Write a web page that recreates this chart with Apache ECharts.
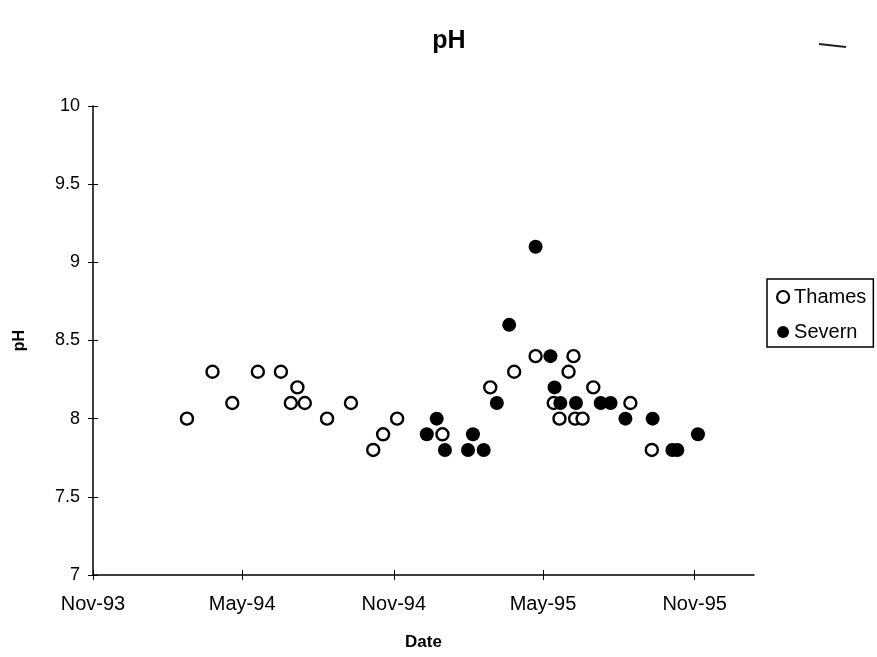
<!DOCTYPE html>
<html>
<head>
<meta charset="utf-8">
<script src="https://cdn.jsdelivr.net/npm/echarts@6/dist/echarts.min.js"></script>
<style>
html,body{margin:0;padding:0;background:#fff;}
#chart{width:877px;height:657px;}
</style>
</head>
<body>
<div id="chart"></div>
<script>
// ---- data ----
var axisStart = '1993-11-01';
var axisEnd = '1996-01-12';
var tickDates = ['1993-11-01', '1994-05-01', '1994-11-01', '1995-05-01', '1995-11-01'];
var tickLabels = ['Nov-93', 'May-94', 'Nov-94', 'May-95', 'Nov-95'];

var thamesDates = ['1994-02-23', '1994-03-26', '1994-04-19', '1994-05-20', '1994-06-17', '1994-06-29',
  '1994-07-07', '1994-07-16', '1994-08-12', '1994-09-10', '1994-10-07', '1994-10-19', '1994-11-05',
  '1994-12-30', '1995-02-26', '1995-03-27', '1995-04-22', '1995-05-14', '1995-05-21', '1995-06-01',
  '1995-06-07', '1995-06-09', '1995-06-18', '1995-07-01', '1995-08-15', '1995-09-10'];
var thamesPH = [8.0, 8.3, 8.1, 8.3, 8.3, 8.1,
  8.2, 8.1, 8.0, 8.1, 7.8, 7.9, 8.0,
  7.9, 8.2, 8.3, 8.4, 8.1, 8.0, 8.3,
  8.4, 8.0, 8.0, 8.2, 8.1, 7.8];

var severnDates = ['1994-12-11', '1994-12-23', '1995-01-02', '1995-01-30', '1995-02-05', '1995-02-18',
  '1995-03-06', '1995-03-21', '1995-04-22', '1995-05-10', '1995-05-15', '1995-05-22', '1995-06-10',
  '1995-07-10', '1995-07-22', '1995-08-09', '1995-09-11', '1995-10-05', '1995-10-11', '1995-11-05'];
var severnPH = [7.9, 8.0, 7.8, 7.8, 7.9, 7.8,
  8.1, 8.6, 9.1, 8.4, 8.2, 8.1, 8.1,
  8.1, 8.1, 8.0, 8.0, 7.8, 7.8, 7.9];

// ---- helpers ----
var DAY = 86400000;
function dayNum(s) { return (Date.parse(s + 'T00:00:00Z') - Date.parse(axisStart + 'T00:00:00Z')) / DAY; }
var tickDays = tickDates.map(dayNum);
function pairs(dates, vals) { return dates.map(function (d, i) { return [dayNum(d), vals[i]]; }); }

var FONT = '"Liberation Sans", Arial, Helvetica, sans-serif';
var chart = echarts.init(document.getElementById('chart'), null, { renderer: 'canvas' });

var xMax = dayNum(axisEnd);
var baseX = {
  type: 'value', min: 0, max: xMax, position: 'bottom',
  splitLine: { show: false }
};

chart.setOption({
  backgroundColor: '#ffffff',
  animation: false,
  title: {
    text: 'pH', left: 444, top: 24, textAlign: 'center',
    textStyle: { fontFamily: FONT, fontSize: 25, fontWeight: 'bold', color: '#000' }
  },
  legend: {
    orient: 'vertical', left: 767, top: 279,
    padding: [8, 7, 5, 9],
    itemGap: 15, itemWidth: 12, itemHeight: 12,
    itemTextGap: 4,
    borderColor: '#000', borderWidth: 1.5,
    textStyle: { fontFamily: FONT, fontSize: 20, color: '#000', lineHeight: 20 },
    data: [
      { name: 'Thames', icon: 'circle', itemStyle: { color: '#fff', borderColor: '#000', borderWidth: 2.2 } },
      { name: 'Severn', icon: 'circle', itemStyle: { color: '#000', borderColor: '#000', borderWidth: 0 } }
    ]
  },
  grid: { left: 93, top: 106, right: 123, bottom: 82, containLabel: false, outerBoundsMode: 'none' },
  xAxis: [
    Object.assign({}, baseX, {
      name: 'Date', nameLocation: 'middle', nameGap: 59,
      nameTextStyle: { fontFamily: FONT, fontSize: 17, fontWeight: 'bold', color: '#000' },
      axisLine: { show: true, lineStyle: { color: '#000', width: 1.5 } },
      axisTick: { show: true, customValues: tickDays, length: 5, inside: false, lineStyle: { color: '#000', width: 1 } },
      axisLabel: {
        customValues: tickDays, margin: 19,
        fontFamily: FONT, fontSize: 20, color: '#000',
        formatter: function (v) {
          var i = tickDays.indexOf(v);
          return i >= 0 ? tickLabels[i] : '';
        }
      }
    }),
    Object.assign({}, baseX, {
      axisLine: { show: false },
      axisTick: { show: true, customValues: tickDays, length: 5, inside: true, lineStyle: { color: '#000', width: 1 } },
      axisLabel: { show: false }
    })
  ],
  yAxis: [
    {
      type: 'value', min: 7, max: 10, interval: 0.5,
      name: 'pH', nameLocation: 'middle', nameGap: 65, nameRotate: 90,
      nameTextStyle: { fontFamily: FONT, fontSize: 16, fontWeight: 'bold', color: '#000' },
      splitLine: { show: false },
      axisLine: { show: true, lineStyle: { color: '#000', width: 1.5 } },
      axisTick: { show: true, length: 5, inside: false, lineStyle: { color: '#000', width: 1 } },
      axisLabel: { margin: 13, fontFamily: FONT, fontSize: 18, color: '#000' }
    },
    {
      type: 'value', min: 7, max: 10, interval: 0.5, position: 'left',
      splitLine: { show: false },
      axisLine: { show: false },
      axisTick: { show: true, length: 5, inside: true, lineStyle: { color: '#000', width: 1 } },
      axisLabel: { show: false }
    }
  ],
  graphic: [
    { type: 'line', shape: { x1: 819, y1: 44, x2: 846, y2: 47 }, style: { stroke: '#222', lineWidth: 2 } }
  ],
  series: [
    {
      name: 'Thames', type: 'scatter', symbol: 'circle', symbolSize: 12,
      data: pairs(thamesDates, thamesPH),
      itemStyle: { color: '#fff', borderColor: '#000', borderWidth: 2.4, opacity: 1 },
      z: 2
    },
    {
      name: 'Severn', type: 'scatter', symbol: 'circle', symbolSize: 14,
      data: pairs(severnDates, severnPH),
      itemStyle: { color: '#000', borderWidth: 0, opacity: 1 },
      z: 3
    }
  ]
});
</script>
</body>
</html>
